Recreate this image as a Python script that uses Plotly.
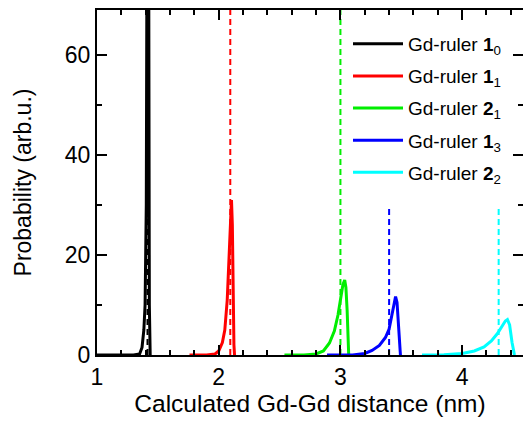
import plotly.graph_objects as go

# ---- data ----
names = ["Gd-ruler <b>1</b><sub>0</sub>", "Gd-ruler <b>1</b><sub>1</sub>",
         "Gd-ruler <b>2</b><sub>1</sub>", "Gd-ruler <b>1</b><sub>3</sub>",
         "Gd-ruler <b>2</b><sub>2</sub>"]
colors = ["#000000", "#ff0000", "#00ee00", "#0000ff", "#00ffff"]

x_10 = [1.0, 1.30, 1.35, 1.37, 1.385, 1.395, 1.405, 1.412, 1.418, 1.424, 1.43, 1.437]
y_10 = [0, 0, 0.2, 1.5, 5, 10, 30, 90, 150, 90, 10, 0]

x_11 = [1.76, 1.90, 1.97, 2.00, 2.03, 2.05, 2.07, 2.085, 2.095, 2.105, 2.112, 2.118, 2.125, 2.13]
y_11 = [0, 0, 0.2, 0.8, 2.5, 5, 11, 20, 28, 31, 26, 12, 2, 0]

x_21 = [2.54, 2.70, 2.80, 2.86, 2.91, 2.95, 2.98, 3.00, 3.02, 3.035, 3.045, 3.055, 3.062, 3.068]
y_21 = [0, 0, 0.2, 0.8, 2.4, 4.8, 8, 11, 14, 15, 13.5, 9, 4, 0]

x_13 = [2.89, 3.10, 3.20, 3.26, 3.32, 3.37, 3.40, 3.43, 3.453, 3.465, 3.475, 3.485, 3.493]
y_13 = [0, 0, 0.3, 0.9, 1.9, 3.5, 5.2, 8.5, 11.7, 10.5, 7, 2.5, 0]

x_22 = [3.67, 3.85, 4.00, 4.10, 4.18, 4.24, 4.29, 4.33, 4.355, 4.372, 4.39, 4.41, 4.43]
y_22 = [0, 0.05, 0.3, 0.8, 1.6, 2.8, 4.3, 5.8, 6.8, 7.1, 6, 2.5, 0]

xs = [x_10, x_11, x_21, x_13, x_22]
ys = [y_10, y_11, y_21, y_13, y_22]

# dashed reference distances and their heights
ref_dist = [1.415, 2.095, 3.00, 3.40, 4.30]
ref_top = [70, 70, 70, 30, 30]

FONT = "Liberation Sans, Arial, sans-serif"

fig = go.Figure()
for i in range(5):
    fig.add_trace(go.Scatter(x=[ref_dist[i], ref_dist[i]], y=[0, ref_top[i]], mode="lines",
                             line=dict(color=colors[i], width=2, dash="6px,4px"),
                             showlegend=False, hoverinfo="skip"))
for i in range(5):
    fig.add_trace(go.Scatter(x=xs[i], y=ys[i], mode="lines", name=names[i],
                             line=dict(color=colors[i], width=3), legendgroup=str(i)))

axis_common = dict(showline=True, linecolor="black", linewidth=2, mirror="allticks",
                   ticks="inside", ticklen=10, tickwidth=2, tickcolor="black",
                   showgrid=False, zeroline=False,
                   tickfont=dict(family=FONT, size=23, color="black"))

fig.update_layout(
    width=523, height=421,
    margin=dict(l=97, r=0, t=10, b=66, autoexpand=False),
    plot_bgcolor="white", paper_bgcolor="white",
    xaxis=dict(range=[1, 4.5], tick0=1, dtick=1,
               minor=dict(dtick=0.2, ticks="inside", ticklen=5, tickwidth=2, tickcolor="black"),
               title=dict(text="Calculated Gd-Gd distance (nm)",
                          font=dict(family=FONT, size=24.5, color="black"), standoff=6),
               **axis_common),
    yaxis=dict(range=[0, 69], tick0=0, dtick=20,
               minor=dict(dtick=10, ticks="inside", ticklen=5, tickwidth=2, tickcolor="black"),
               title=dict(text="Probability (arb.u.)",
                          font=dict(family=FONT, size=23, color="black"), standoff=27),
               **axis_common),
    legend=dict(x=(348 - 97) / 426, y=1 - (25 - 10) / 345, xanchor="left", yanchor="top",
                bgcolor="rgba(0,0,0,0)", font=dict(family=FONT, size=19, color="black"),
                itemwidth=50, tracegroupgap=4.4),
    showlegend=True,
)

fig.write_html("out.html")
